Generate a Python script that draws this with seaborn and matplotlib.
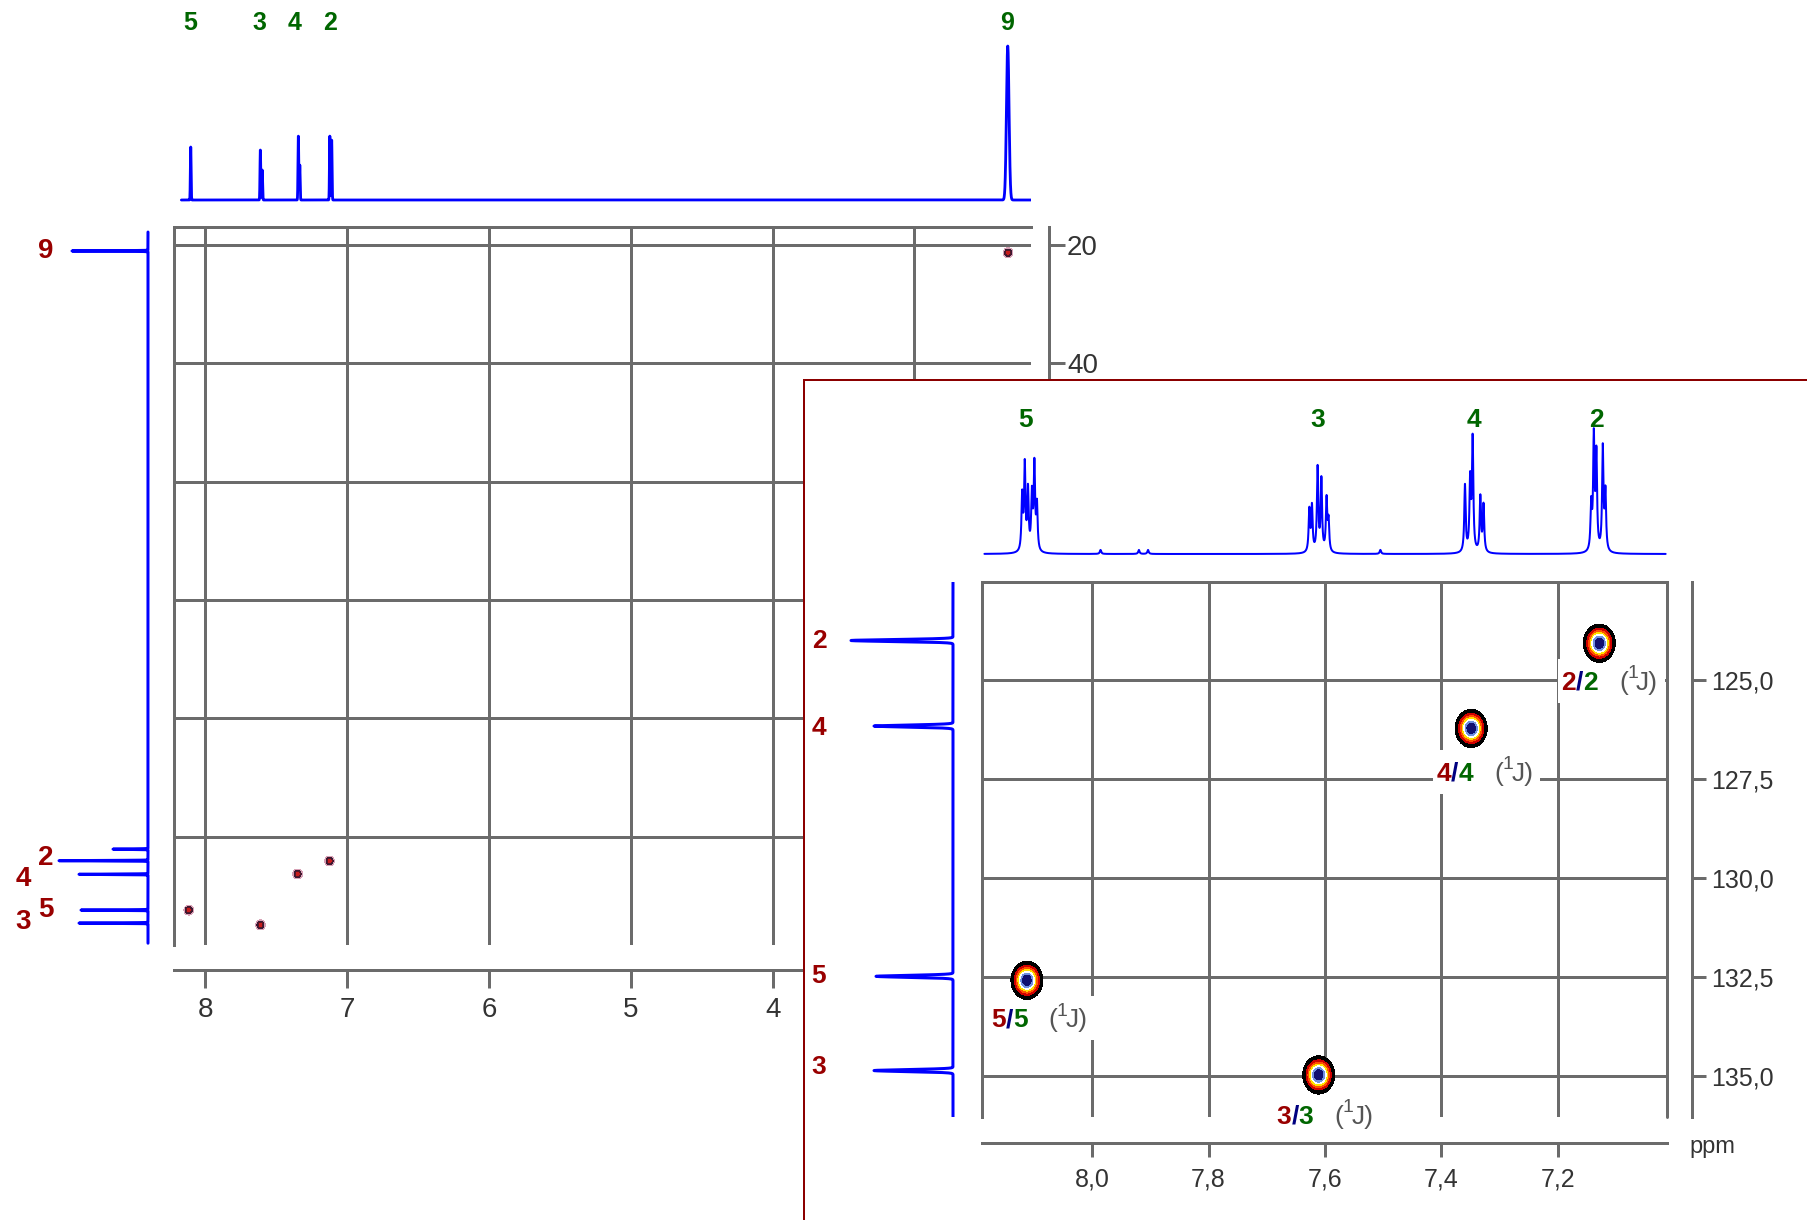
import numpy as np
import matplotlib
matplotlib.use("Agg")
import matplotlib.pyplot as plt
import seaborn as sns
from matplotlib.transforms import offset_copy, blended_transform_factory, ScaledTranslation
from matplotlib.patches import Rectangle

# ---------------------------------------------------------------- data
# overview 1H trace (shift ppm, height)
h1_overview_shift = [8.104, 7.613, 7.600, 7.345, 7.335, 7.123, 7.110, 2.342]
h1_overview_height = [53, 50, 30, 64, 35, 64, 60, 154]
h1_overview_labels = ["5", "3", "4", "2", "9"]
h1_overview_label_pos = [8.11, 7.62, 7.37, 7.124, 2.35]

# overview 13C projection (shift ppm, height)
c13_overview_shift = [21.0, 122.1, 124.05, 126.35, 132.4, 134.6]
c13_overview_height = [76, 35, 89, 69, 67, 69]
c13_overview_labels = ["9", "2", "4", "5", "3"]
c13_overview_label_c = [21.0, 123.6, 127.15, 132.4, 134.4]
c13_overview_label_x = [-102, -102, -124.5, -102, -124.5]

# overview HSQC cross peaks
hsqc_overview_h = [7.125, 7.350, 8.118, 7.612, 2.340]
hsqc_overview_c = [124.1, 126.3, 132.4, 134.9, 21.3]

overview_x_ticks = [8, 7, 6, 5, 4, 3]
overview_y_ticks = [20, 40, 60, 80, 100, 120]

# expansion 1H trace (multiplet lines)
h1_zoom_shift = [8.1202, 8.1157, 8.1102, 8.1035, 8.0992, 8.0948,
                 7.9856, 7.9197, 7.9040,
                 7.6270, 7.6225, 7.6128, 7.6063, 7.5974, 7.5940,
                 7.5050,
                 7.3597, 7.3508, 7.3465, 7.3333, 7.3278,
                 7.1429, 7.1384, 7.1340, 7.1230, 7.1185]
h1_zoom_height = [55, 85, 60, 55, 85, 45,
                  4, 4, 4,
                  42, 45, 84, 72, 52, 30,
                  4,
                  67, 70, 112, 55, 47,
                  45, 112, 95, 103, 58]
h1_zoom_labels = ["5", "3", "4", "2"]
h1_zoom_label_pos = [8.1136, 7.612, 7.345, 7.134]

# expansion 13C projection
c13_zoom_shift = [124.0, 126.16, 132.48, 134.86]
c13_zoom_height = [102, 79, 77, 79]
c13_zoom_labels = ["2", "4", "5", "3"]
c13_zoom_label_c = [124.0, 126.2, 132.47, 134.78]

# expansion HSQC cross peaks and assignments
hsqc_zoom_h = [7.129, 7.349, 8.112, 7.611]
hsqc_zoom_c = [124.07, 126.22, 132.58, 134.97]
hsqc_zoom_carbon = ["2", "4", "5", "3"]
hsqc_zoom_proton = ["2", "4", "5", "3"]
hsqc_label_h = [7.1947, 7.409, 8.174, 7.683]
hsqc_label_c = [125.07, 127.36, 133.59, 136.03]

zoom_x_ticks = [8.0, 7.8, 7.6, 7.4, 7.2]
zoom_x_ticklabels = ["8,0", "7,8", "7,6", "7,4", "7,2"]
zoom_y_ticks = [125.0, 127.5, 130.0, 132.5, 135.0]
zoom_y_ticklabels = ["125,0", "127,5", "130,0", "132,5", "135,0"]

# ---------------------------------------------------------------- style
sns.set_style("white")
plt.rcParams["font.family"] = ["Liberation Sans", "DejaVu Sans"]

W, H = 1807, 1220
PX = 72 / 100  # points per pixel at dpi 100
GRID = "#6b6b6b"
TXT = "#333333"
BLUE = "#0000ff"
RED = "#990000"
GREEN = "#006600"
NAVY = "#000080"
GREY = "#555555"
FRAME_RED = "#8b0000"

fig = plt.figure(figsize=(W / 100, H / 100), dpi=100)
fig.patch.set_facecolor("white")


def box(l, t, r, b):
    return [l / W, 1 - b / H, (r - l) / W, (b - t) / H]


def lorentz(grid, shifts, heights, hw):
    g = np.asarray(grid)[:, None]
    s = np.asarray(shifts)[None, :]
    h = np.asarray(heights, dtype=float)[None, :]
    return (h / (1 + ((g - s) / hw) ** 2)).sum(axis=1)


def gauss(grid, shifts, heights, sig):
    g = np.asarray(grid)[:, None]
    s = np.asarray(shifts)[None, :]
    h = np.asarray(heights, dtype=float)[None, :]
    return (h * np.exp(-0.5 * ((g - s) / sig) ** 2)).sum(axis=1)


def gauss2d(X, Y, hs, cs, sx, sy):
    Z = np.zeros_like(X)
    for h, c in zip(hs, cs):
        Z = np.maximum(Z, np.exp(-0.5 * ((X - h) / sx) ** 2 - 0.5 * ((Y - c) / sy) ** 2))
    return Z


# ================================================================ overview
OX = (8.222, 2.178)
OY = (138.3, 16.9)

ax = fig.add_axes(box(174, 226.7, 1031, 945))
ax.set_xlim(*OX)
ax.set_ylim(*OY)
for s in ["top", "left", "right", "bottom"]:
    ax.spines[s].set_color(GRID)
    ax.spines[s].set_linewidth(3 * PX)
ax.spines["bottom"].set_position(("outward", 25 * PX))
ax.spines["right"].set_position(("outward", 18 * PX))
ax.set_xticks(overview_x_ticks)
ax.set_xticklabels([str(t) for t in overview_x_ticks])
ax.set_yticks(overview_y_ticks)
ax.set_yticklabels([str(t) for t in overview_y_ticks])
ax.tick_params(axis="x", bottom=True, direction="out", length=18 * PX, width=3 * PX,
               color=GRID, pad=9 * PX, labelsize=20, labelcolor=TXT)
ax.tick_params(axis="y", left=False, right=True, labelleft=False, labelright=True,
               direction="out", length=16 * PX, width=3 * PX, color=GRID,
               pad=2 * PX, labelsize=20, labelcolor=TXT)
ax.grid(True, color=GRID, lw=3 * PX)
ax.set_axisbelow(True)

Xm, Ym = np.meshgrid(np.linspace(OX[1], OX[0], 2400), np.linspace(OY[1], OY[0], 1500))
Zm = gauss2d(Xm, Ym, hsqc_overview_h, hsqc_overview_c, 0.016, 0.39)
ax.contourf(Xm, Ym, Zm, levels=[0.1, 0.3, 0.55, 0.8, 1.05],
            colors=["#d8a2b6", "#3a1a34", "#5a1426", "#c81c1c"], zorder=3)

# overview 1H trace
ax_t = fig.add_axes(box(174, 30, 1031, 210))
grid_t = np.linspace(8.17, 2.18, 12000)
trace_t = gauss(grid_t, h1_overview_shift, h1_overview_height,
                np.where(np.array(h1_overview_shift) < 3, 0.009, 0.0025)[None, :])
sns.lineplot(x=grid_t, y=trace_t, ax=ax_t, color=BLUE, lw=2.8 * PX,
             estimator=None, sort=False)
ax_t.set_xlim(*OX)
ax_t.set_ylim(-10, 170)
ax_t.axis("off")
tr_t = blended_transform_factory(ax_t.transData, ax_t.transAxes)
for lab, x in zip(h1_overview_labels, h1_overview_label_pos):
    ax_t.text(x, 1.039, lab, transform=tr_t, color=GREEN, fontsize=18,
              fontweight="bold", ha="center", va="center", clip_on=False)

# overview 13C projection
ax_l = fig.add_axes(box(40, 226.7, 160, 945))
grid_l = np.linspace(17.8, 138.0, 24041)
trace_l = gauss(grid_l, c13_overview_shift, c13_overview_height, 0.04)
sns.lineplot(x=-trace_l, y=grid_l, ax=ax_l, color=BLUE, lw=3 * PX,
             estimator=None, sort=False, orient="y")
ax_l.set_xlim(-108, 12)
ax_l.set_ylim(*OY)
ax_l.axis("off")
for lab, c, x in zip(c13_overview_labels, c13_overview_label_c, c13_overview_label_x):
    ax_l.text(x, c, lab, color=RED, fontsize=20, fontweight="bold",
              ha="center", va="center", clip_on=False)

# ================================================================ expansion panel
ax_c = fig.add_axes(box(804.4, 380.3, W + 20, H + 20))
ax_c.set_zorder(10)
ax_c.set_facecolor("white")
ax_c.set_xticks([])
ax_c.set_yticks([])
for s in ["right", "bottom"]:
    ax_c.spines[s].set_visible(False)
for s in ["left", "top"]:
    ax_c.spines[s].set_color(FRAME_RED)
    ax_c.spines[s].set_linewidth(2 * PX)

ZX = (8.1895, 7.0127)
ZY = (136.04, 122.53)

ax2 = fig.add_axes(box(981.8, 582.3, 1667, 1117.3))
ax2.set_zorder(11)
ax2.set_facecolor("white")
ax2.set_xlim(*ZX)
ax2.set_ylim(*ZY)
for s in ["top", "left", "right", "bottom"]:
    ax2.spines[s].set_color(GRID)
    ax2.spines[s].set_linewidth(3 * PX)
ax2.spines["bottom"].set_position(("outward", 25.7 * PX))
ax2.spines["right"].set_position(("outward", 24.5 * PX))
ax2.plot([1, 1], [0, 1], transform=ax2.transAxes, color=GRID, lw=3 * PX, clip_on=False)
ax2.set_xticks(zoom_x_ticks)
ax2.set_xticklabels(zoom_x_ticklabels)
ax2.set_yticks(zoom_y_ticks)
ax2.set_yticklabels(zoom_y_ticklabels)
ax2.tick_params(axis="x", bottom=True, direction="out", length=14 * PX, width=3 * PX,
                color=GRID, pad=11 * PX, labelsize=18, labelcolor=TXT)
ax2.tick_params(axis="y", left=False, right=True, labelleft=False, labelright=True,
                direction="out", length=14 * PX, width=3 * PX, color=GRID,
                pad=6 * PX, labelsize=18, labelcolor=TXT)
ax2.grid(True, color=GRID, lw=3 * PX)
ax2.set_axisbelow(True)

Xz, Yz = np.meshgrid(np.linspace(ZX[1], ZX[0], 1400), np.linspace(ZY[1], ZY[0], 800))
Zz = gauss2d(Xz, Yz, hsqc_zoom_h, hsqc_zoom_c, 0.0128, 0.225)
ax2.contourf(Xz, Yz, Zz, levels=[0.1, 0.24, 0.36, 0.48, 0.6, 0.72, 0.85, 1.05],
             colors=["#000000", "#d00000", "#ff5000", "#ffe000", "#ffffff",
                     "#7090e0", "#101070"], zorder=6)

for h, c, ca, pr in zip(hsqc_label_h, hsqc_label_c, hsqc_zoom_carbon, hsqc_zoom_proton):
    anchor = fig.dpi_scale_trans + ScaledTranslation(h, c, ax2.transData)
    ax2.add_patch(Rectangle((-0.03, -0.20), 1.07, 0.44, transform=anchor,
                            facecolor="white", edgecolor="none", zorder=5, clip_on=False))
    pieces = [(0, 0, ca, RED, "bold", 19), (14.7, 0, "/", NAVY, "bold", 19),
              (22, 0, pr, GREEN, "bold", 19),
              (58, 0, "(", GREY, "normal", 19), (66, 9, "1", GREY, "normal", 14),
              (75, 0, "J)", GREY, "normal", 19)]
    for dx, dy, s, col, fw, fs in pieces:
        t = offset_copy(ax2.transData, fig=fig, x=dx * PX, y=dy * PX, units="points")
        ax2.text(h, c, s, transform=t, color=col, fontsize=fs, fontweight=fw,
                 ha="left", va="center", clip_on=False, zorder=7)

# expansion 1H trace
ax_s = fig.add_axes(box(981.8, 410, 1667, 570))
ax_s.set_zorder(11)
ax_s.patch.set_alpha(0)
grid_s = np.linspace(8.185, 7.015, 11701)
trace_s = lorentz(grid_s, h1_zoom_shift, h1_zoom_height, 0.0014)
sns.lineplot(x=grid_s, y=trace_s, ax=ax_s, color=BLUE, lw=2 * PX,
             estimator=None, sort=False)
ax_s.set_xlim(*ZX)
ax_s.set_ylim(-16, 144)
ax_s.axis("off")
tr_s = blended_transform_factory(ax_s.transData, ax_s.transAxes)
for lab, x in zip(h1_zoom_labels, h1_zoom_label_pos):
    ax_s.text(x, 0.9375, lab, transform=tr_s, color=GREEN, fontsize=19,
              fontweight="bold", ha="center", va="center", clip_on=False)

# expansion 13C projection
ax_p = fig.add_axes(box(840, 582.3, 965, 1117.3))
ax_p.set_zorder(11)
ax_p.patch.set_alpha(0)
grid_p = np.linspace(122.53, 136.04, 5405)
trace_p = gauss(grid_p, c13_zoom_shift, c13_zoom_height, 0.025)
sns.lineplot(x=-trace_p, y=grid_p, ax=ax_p, color=BLUE, lw=3 * PX,
             estimator=None, sort=False, orient="y")
ax_p.set_xlim(-113, 12)
ax_p.set_ylim(*ZY)
ax_p.axis("off")
for lab, c in zip(c13_zoom_labels, c13_zoom_label_c):
    ax_p.text(-134, c, lab, color=RED, fontsize=19, fontweight="bold",
              ha="center", va="center", clip_on=False)

fig.text(1689 / W, 1 - 1153 / H, "ppm", fontsize=17, color=TXT,
         ha="left", va="baseline", zorder=20)

fig.savefig("out.png", dpi=100, facecolor="white")
